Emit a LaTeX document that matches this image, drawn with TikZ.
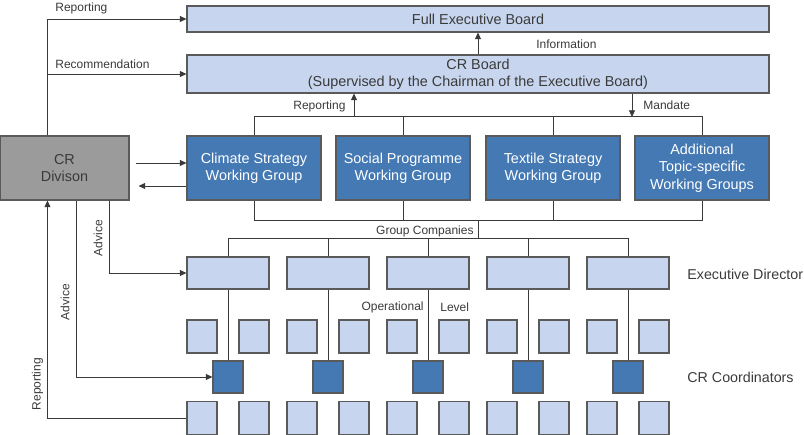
\documentclass[tikz,border=0pt]{standalone}
\usepackage{fontspec}
\setmainfont{Liberation Sans}
\usepackage{xcolor}
\usepackage{tikz}
\usetikzlibrary{arrows.meta}

\definecolor{claro}{HTML}{C7D6EE}
\definecolor{oscuro}{HTML}{4479B4}
\definecolor{gris}{HTML}{9B9B9B}
\definecolor{borde}{HTML}{5A5A5A}
\definecolor{linea}{HTML}{3A3A3A}

\begin{document}
\begin{tikzpicture}[x=0.75pt, y=-0.75pt, line width=0.6pt, color=linea,
    caja/.style={draw=borde, line width=0.8pt, inner sep=0pt, align=center, font=\fontsize{10.8}{13}\selectfont},
    ancha/.style={caja, fill=claro, minimum width=436.5pt},
    grupo/.style={caja, fill=oscuro, text=white, minimum width=100.5pt, minimum height=48pt},
    director/.style={caja, fill=claro, minimum width=61.5pt, minimum height=24pt},
    coord/.style={caja, fill=oscuro, minimum width=22.5pt, minimum height=24pt},
    cuadro/.style={caja, fill=claro, minimum width=22.5pt, minimum height=24.75pt},
    etiq/.style={inner sep=0pt, font=\fontsize{9}{11}\selectfont},
    lado/.style={inner sep=0pt, anchor=west, font=\fontsize{10.7}{13}\selectfont},
    flecha/.style={-{Triangle[length=5pt, width=4.5pt]}}]

    \useasboundingbox (0,0) rectangle (804,435);

    % Consejos
    \node[ancha, minimum height=19.5pt] (feb) at (478,19) {Full Executive Board};
    \node[ancha, minimum height=28.5pt] (crb) at (478,74) {CR Board\\(Supervised by the Chairman of the Executive Board)};

    % Division CR
    \node[caja, fill=gris, minimum width=96.75pt, minimum height=48pt] (crd) at (64.5,168) {CR\\Divison};

    % Grupos de trabajo
    \foreach \i/\x/\t in {1/254/{Climate Strategy\\Working Group}, 2/403/{Social Programme\\Working Group}, 3/553/{Textile Strategy\\Working Group}, 4/702/{Additional\\Topic-specific\\Working Groups}} {
        \node[grupo] (wg\i) at (\x,168) {\t};
    }

    % Empresas del grupo
    \foreach \i in {1,...,5} {
        \node[director] (ed\i) at (128+100*\i,273) {};  % Director ejecutivo
        \node[coord] (co\i) at (128+100*\i,377) {};  % Coordinador CR
        \node[cuadro] (sa\i) at (102+100*\i,336.5) {};
        \node[cuadro] (sb\i) at (154+100*\i,336.5) {};
        \node[cuadro] (sc\i) at (102+100*\i,418) {};
        \node[cuadro] (sd\i) at (154+100*\i,418) {};
        \draw (ed\i.south) -- (co\i.north);
        \draw (ed\i.north) -- ++(0,-18);
    }
    \draw (ed1.north) ++(0,-18) -| (ed5.north);

    % Flechas de arriba
    \draw[flecha] ([xshift=36pt]crd.north west) |- (feb.west);
    \draw[flecha] ([xshift=36pt]crd.north west |- crb.west) -- (crb.west);
    \draw[flecha] (crb.north) -- (feb.south);

    % Barras de los grupos
    \foreach \i in {1,...,4} {
        \draw (wg\i.north) -- ++(0,-19);
        \draw (wg\i.south) -- ++(0,20);
    }
    \draw (wg1.north) ++(0,-19) -| (wg4.north);
    \draw (wg1.south) ++(0,20) -| (wg4.south);
    \coordinate (rp) at (354,117);
    \coordinate (md) at (632,117);
    \coordinate (gc) at (478,220);
    \draw[flecha] (rp) -- (rp |- crb.south);
    \draw[flecha] (md |- crb.south) -- (md);
    \draw (gc) -- ++(0,19);

    % Division CR y grupo del clima
    \draw[flecha, shorten <=4.5pt] ([yshift=3.75pt]crd.east) -- ([yshift=3.75pt]wg1.west);
    \draw[flecha, shorten >=6.75pt] ([yshift=-13.5pt]wg1.west) -- ([yshift=-13.5pt]crd.east);

    % Consejo y reporte
    \draw[flecha] ([xshift=82.5pt]crd.south west) |- (ed1.west);
    \draw[flecha] ([xshift=57.75pt]crd.south west) |- (co1.west);
    \draw[flecha] (sc1.west) -| ([xshift=36pt]crd.south west);

    % Etiquetas
    \node[etiq, anchor=west] (lrep) at (55,8) {Reporting};
    \node[etiq, anchor=west] (lrec) at (55,64) {Recommendation};
    \node[etiq, anchor=west] (linf) at (536,44.5) {Information};
    \node[etiq, anchor=west] (lrep2) at (293,106) {Reporting};
    \node[etiq, anchor=west] (lman) at (643,105) {Mandate};
    \node[etiq, anchor=east] (lgrp) at (474,231) {Group Companies};
    \node[etiq, anchor=east] (lop) at (424,307.5) {Operational};
    \node[etiq, anchor=west] (llev) at (440,307.5) {Level};
    \node[etiq, rotate=90] (ladv1) at (98,238) {Advice};
    \node[etiq, rotate=90] (ladv2) at (65,302) {Advice};
    \node[etiq, rotate=90] (lrep3) at (37.5,384) {Reporting};
    \node[lado] (led) at (687,274.5) {Executive Director};
    \node[lado] (lco) at (687,377.5) {CR Coordinators};

\end{tikzpicture}
\end{document}
